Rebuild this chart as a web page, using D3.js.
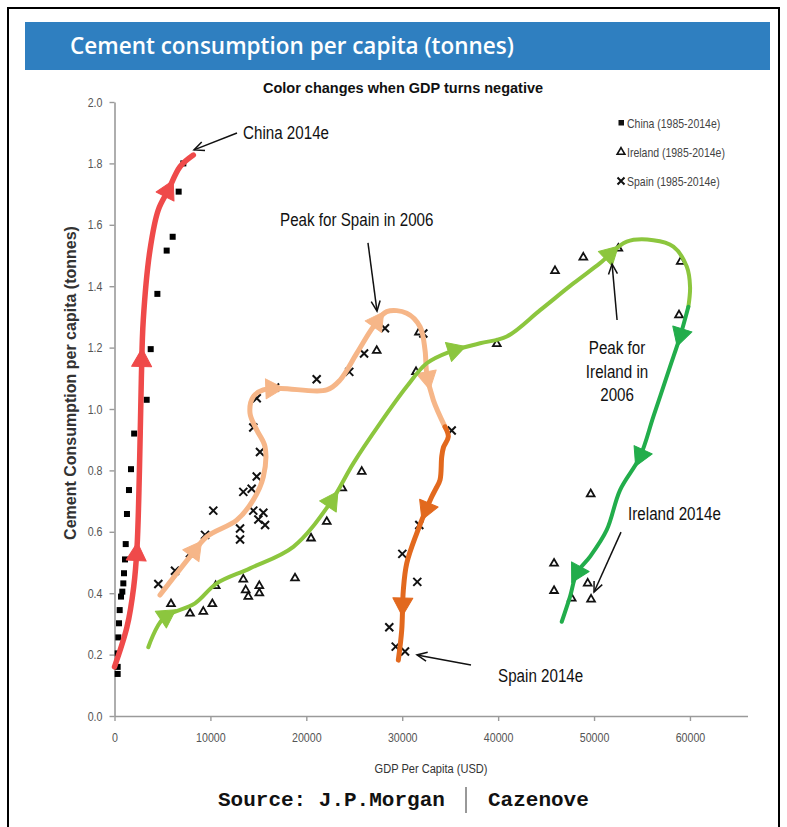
<!DOCTYPE html>
<html>
<head>
<meta charset="utf-8">
<script src="https://cdn.jsdelivr.net/npm/d3@7"></script>
<style>
  html, body { margin: 0; padding: 0; background: #fff; }
  svg { display: block; }
</style>
</head>
<body>
<svg id="chart" width="787" height="827"></svg>
<script>
// ---- Observations: GDP per capita (USD) and cement consumption per capita (tonnes)
const chinaGDP  = [330, 330, 330, 400, 470, 540, 680, 815, 920, 990, 1095, 1170, 1300, 1510, 1720, 2050, 3355, 3775, 4470, 5440, 6065, 6690, 7175];
const chinaCons = [0.137, 0.16, 0.204, 0.256, 0.302, 0.345, 0.389, 0.405, 0.432, 0.465, 0.51, 0.56, 0.658, 0.736, 0.804, 0.92, 1.03, 1.195, 1.375, 1.516, 1.561, 1.708, 1.80];

const irelandGDP  = [5890, 7873, 9260, 10200, 10550, 13430, 13680, 13950, 15100, 15100, 18820, 20490, 22130, 23750, 25780, 27340, 31440, 31750, 39860, 45930, 48880, 52530, 59040, 58860, 49650, 45830, 45830, 47670, 49340, 49690];
const irelandCons = [0.365, 0.334, 0.34, 0.365, 0.424, 0.445, 0.41, 0.389, 0.424, 0.40, 0.449, 0.579, 0.633, 0.742, 0.796, 1.19, 1.121, 1.25, 1.212, 1.45, 1.494, 1.523, 1.48, 1.306, 0.723, 0.497, 0.408, 0.383, 0.432, 0.38];

const spainGDP  = [4570, 6310, 7870, 9440, 10300, 13090, 13090, 13430, 14300, 14470, 15000, 15520, 15700, 14830, 15170, 14470, 14830, 16740, 21080, 24480, 26020, 28200, 32200, 35160, 31780, 30010, 31570, 28650, 29320, 30290];
const spainCons = [0.43, 0.473, 0.53, 0.59, 0.669, 0.611, 0.575, 0.73, 0.74, 0.669, 0.64, 0.662, 0.622, 0.78, 0.86, 0.94, 1.035, 1.07, 1.097, 1.121, 1.181, 1.263, 1.246, 0.93, 0.622, 0.528, 0.437, 0.289, 0.226, 0.21];

// ---- Hand-drawn trend paths (GDP, tonnes); the colour switches where GDP turns negative
const chinaTrendGDP = [0, 1300, 2000, 2350, 2600, 2800, 3000, 3700, 4560, 5610, 6830, 8220];
const chinaTrendVal = [0.16, 0.29, 0.42, 0.55, 0.80, 1.10, 1.29, 1.518, 1.648, 1.713, 1.789, 1.827];

const spainUpGDP = [4745, 7873, 9614, 12742, 14473, 15516, 15693, 14828, 14129, 14473, 15516, 17257, 22127, 23514, 25255, 26986, 28384, 30469, 31856, 32377, 32555, 33243, 34463];
const spainUpVal = [0.394, 0.519, 0.584, 0.638, 0.704, 0.779, 0.877, 0.932, 0.986, 1.040, 1.062, 1.067, 1.062, 1.094, 1.181, 1.268, 1.317, 1.312, 1.268, 1.192, 1.116, 1.029, 0.942];
const spainDownGDP = [34463, 34807, 34300, 34119, 33942, 33500, 33076, 31512, 30469, 30115, 29948, 29593];
const spainDownVal = [0.942, 0.910, 0.875, 0.845, 0.769, 0.74, 0.714, 0.595, 0.497, 0.410, 0.280, 0.182];

const irelandUpGDP = [3525, 5089, 8394, 10657, 14129, 18644, 22471, 24900, 27685, 30469, 32555, 34984, 38113, 40897, 44380, 47841, 50625, 53410, 56184, 58269, 59666, 60010, 59833];
const irelandUpVal = [0.224, 0.318, 0.367, 0.432, 0.481, 0.551, 0.693, 0.823, 0.953, 1.073, 1.149, 1.187, 1.214, 1.236, 1.322, 1.409, 1.475, 1.545, 1.550, 1.529, 1.464, 1.398, 1.333];
const irelandDownGDP = [59833, 58968, 57925, 56184, 54797, 52711, 51324, 49583, 48196, 47497, 46632];
const irelandDownVal = [1.333, 1.236, 1.138, 0.975, 0.845, 0.736, 0.606, 0.519, 0.465, 0.389, 0.307];

// Direction arrows sitting on each trend (GDP, tonnes)
const chinaArrowGDP = [2350, 2800, 5610];
const chinaArrowVal = [0.53, 1.16, 1.713];
const spainUpArrowGDP = [8500, 16500, 27250, 32900];
const spainUpArrowVal = [0.54, 1.065, 1.29, 1.10];
const spainDownArrowGDP = [32700, 30400];
const spainDownArrowVal = [0.67, 0.36];
const irelandUpArrowGDP = [5800, 22800, 35500, 51500];
const irelandUpArrowVal = [0.31, 0.70, 1.19, 1.51];
const irelandDownArrowGDP = [58900, 54800, 48200];
const irelandDownArrowVal = [1.24, 0.845, 0.465];

// Axis ticks
const yTicks = [0, 0.2, 0.4, 0.6, 0.8, 1.0, 1.2, 1.4, 1.6, 1.8, 2.0];
const xTicks = [0, 10000, 20000, 30000, 40000, 50000, 60000];

const legendLabels = ["China (1985-2014e)", "Ireland (1985-2014e)", "Spain (1985-2014e)"];

// Callouts: label lines, text anchor (GDP, tonnes), arrow from -> to (GDP, tonnes)
const calloutText = [["China 2014e"], ["Peak for Spain in 2006"], ["Peak for", "Ireland in", "2006"], ["Ireland 2014e"], ["Spain 2014e"]];
const calloutGDP  = [13400, 17260, 52400, 53550, 39990];
const calloutVal  = [1.879, 1.596, 1.179, 0.638, 0.111];
const calloutFromGDP = [12770, 26430, 52400, 52810, 37170];
const calloutFromVal = [1.899, 1.541, 1.290, 0.599, 0.166];
const calloutToGDP   = [8290, 27370, 51880, 50000, 31540];
const calloutToVal   = [1.844, 1.319, 1.472, 0.404, 0.199];

// ---- Drawing
const svg = d3.select("#chart");
const sans = "'Liberation Sans', Arial, sans-serif";
const NARROW = 0.82;   // horizontal squeeze giving an Arial Narrow look

// text helper: narrow-set text anchored at (px, py)
function narrowText(parent, px, py, str, size, opts = {}) {
  return parent.append("text")
    .attr("transform", `translate(${px},${py}) scale(${NARROW},1)`)
    .attr("font-family", sans).attr("font-size", size)
    .attr("text-anchor", opts.anchor || "start")
    .attr("fill", opts.fill || "#111").text(str);
}

// outer frame
svg.append("rect").attr("x", 8).attr("y", 8).attr("width", 771).attr("height", 840)
  .attr("fill", "#fff").attr("stroke", "#000").attr("stroke-width", 2);

// title banner
svg.append("rect").attr("x", 25).attr("y", 22).attr("width", 745).attr("height", 48)
  .attr("fill", "#2f7fc0");
svg.append("text").attr("x", 70).attr("y", 54)
  .attr("font-family", "'Open Sans', sans-serif").attr("font-weight", 600).attr("font-size", 22.5)
  .attr("fill", "#fff").text("Cement consumption per capita (tonnes)");

svg.append("text").attr("x", 403).attr("y", 93).attr("text-anchor", "middle")
  .attr("font-family", sans).attr("font-weight", "bold").attr("font-size", 14.5)
  .attr("fill", "#111").text("Color changes when GDP turns negative");

const x = d3.scaleLinear().domain([0, 66000]).range([114.5, 747.5]);
const y = d3.scaleLinear().domain([0, 2]).range([716, 102]);

// axes
const yAxis = svg.append("g").attr("transform", `translate(${x(0)},0)`)
  .call(d3.axisLeft(y).tickValues(yTicks).tickFormat(d3.format(".1f")).tickSize(5).tickSizeOuter(0).tickPadding(7));
const xAxis = svg.append("g").attr("transform", `translate(0,${y(0)})`)
  .call(d3.axisBottom(x).tickValues(xTicks).tickFormat(d3.format("d")).tickSize(5).tickSizeOuter(0).tickPadding(12));
[yAxis, xAxis].forEach(g => {
  g.select(".domain").attr("stroke", "#9a9a9a").attr("stroke-width", 1.6);
  g.selectAll(".tick line").attr("stroke", "#9a9a9a").attr("stroke-width", 1.4);
  g.selectAll(".tick text").attr("fill", "#555").attr("font-family", sans).attr("font-size", 13);
});
// squeeze tick labels about their own anchor
yAxis.selectAll(".tick text").each(function () {
  const t = d3.select(this), tx = +t.attr("x");
  t.attr("x", null).attr("transform", `translate(${tx},0) scale(${NARROW},1)`);
});
xAxis.selectAll(".tick text").attr("transform", `scale(${NARROW},1)`);

// axis titles
svg.append("text").attr("transform", `translate(76,383) rotate(-90)`).attr("text-anchor", "middle")
  .attr("font-family", sans).attr("font-weight", "bold").attr("font-size", 16)
  .attr("fill", "#333").text("Cement Consumption per capita (tonnes)");
narrowText(svg, 431, 773, "GDP Per Capita (USD)", 13.5, { anchor: "middle", fill: "#333" });

// source line
const mono = "'Liberation Mono', 'Courier New', monospace";
svg.append("text").attr("x", 218).attr("y", 806).attr("font-family", mono).attr("font-weight", "bold")
  .attr("font-size", 21).attr("fill", "#111").text("Source: J.P.Morgan");
svg.append("line").attr("x1", 466).attr("x2", 466).attr("y1", 787).attr("y2", 813)
  .attr("stroke", "#333").attr("stroke-width", 1);
svg.append("text").attr("x", 488).attr("y", 806).attr("font-family", mono).attr("font-weight", "bold")
  .attr("font-size", 21).attr("fill", "#111").text("Cazenove");

// markers
const gMarks = svg.append("g");
gMarks.selectAll("rect.china").data(d3.zip(chinaGDP, chinaCons)).join("rect")
  .attr("x", d => x(d[0]) - 3).attr("y", d => y(d[1]) - 3).attr("width", 6).attr("height", 6).attr("fill", "#000");

const tri = d3.symbol().type(d3.symbolTriangle).size(26);
gMarks.selectAll("path.ire").data(d3.zip(irelandGDP, irelandCons)).join("path")
  .attr("d", tri).attr("transform", d => `translate(${x(d[0])},${y(d[1])})`)
  .attr("fill", "#fff").attr("stroke", "#111").attr("stroke-width", 1.8);

const crossPath = "M-4,-4L4,4M-4,4L4,-4";
gMarks.selectAll("path.spa").data(d3.zip(spainGDP, spainCons)).join("path")
  .attr("d", crossPath).attr("transform", d => `translate(${x(d[0])},${y(d[1])})`)
  .attr("fill", "none").attr("stroke", "#111").attr("stroke-width", 2);

// trends with direction arrows
const line = d3.line().x(d => x(d[0])).y(d => y(d[1])).curve(d3.curveCatmullRom.alpha(0.5));
function trend(gdp, val, aG, aV, color, width) {
  const path = svg.append("path").datum(d3.zip(gdp, val)).attr("d", line)
    .attr("fill", "none").attr("stroke", color).attr("stroke-width", width)
    .attr("stroke-linecap", "round").attr("stroke-linejoin", "round");
  const node = path.node();
  const total = node.getTotalLength();
  d3.zip(aG, aV).forEach(([g, v]) => {
    const tx = x(g), ty = y(v);
    let best = 0, bestD = Infinity;
    for (let l = 0; l <= total; l += 1) {
      const p = node.getPointAtLength(l);
      const dd = (p.x - tx) ** 2 + (p.y - ty) ** 2;
      if (dd < bestD) { bestD = dd; best = l; }
    }
    const p0 = node.getPointAtLength(Math.max(0, best - 4));
    const p1 = node.getPointAtLength(Math.min(total, best + 4));
    const pc = node.getPointAtLength(best);
    const ang = Math.atan2(p1.y - p0.y, p1.x - p0.x) * 180 / Math.PI;
    svg.append("path").attr("d", "M11,0L-7,-10L-7,10Z")
      .attr("transform", `translate(${pc.x},${pc.y}) rotate(${ang})`)
      .attr("fill", color).attr("stroke", color).attr("stroke-width", 1).attr("stroke-linejoin", "round");
  });
}
trend(chinaTrendGDP, chinaTrendVal, chinaArrowGDP, chinaArrowVal, "#ef4a4a", 5.5);
trend(spainUpGDP, spainUpVal, spainUpArrowGDP, spainUpArrowVal, "#f6b688", 5);
trend(spainDownGDP, spainDownVal, spainDownArrowGDP, spainDownArrowVal, "#e2691e", 5);
trend(irelandUpGDP, irelandUpVal, irelandUpArrowGDP, irelandUpArrowVal, "#8cc63e", 4);
trend(irelandDownGDP, irelandDownVal, irelandDownArrowGDP, irelandDownArrowVal, "#22ad4b", 4);

// legend
const lg = svg.append("g");
legendLabels.forEach((t, i) => {
  const ly = 123 + i * 29;
  if (i === 0) lg.append("rect").attr("x", 618.5).attr("y", ly - 3).attr("width", 5.5).attr("height", 5.5).attr("fill", "#111");
  if (i === 1) lg.append("path").attr("d", tri).attr("transform", `translate(621,${ly})`)
    .attr("fill", "#fff").attr("stroke", "#111").attr("stroke-width", 1.6);
  if (i === 2) lg.append("path").attr("d", "M-3.5,-3.5L3.5,3.5M-3.5,3.5L3.5,-3.5").attr("transform", `translate(621,${ly})`)
    .attr("stroke", "#111").attr("stroke-width", 2);
  narrowText(lg, 627, ly + 4.5, t, 12.8, { fill: "#444" });
});

// callouts
calloutText.forEach((lines, i) => {
  const multi = lines.length > 1;
  lines.forEach((s, j) => {
    narrowText(svg, x(calloutGDP[i]), y(calloutVal[i]) + j * 23.5, s, 18.5, { anchor: multi ? "middle" : "start" });
  });
  const x1 = x(calloutFromGDP[i]), y1 = y(calloutFromVal[i]);
  const x2 = x(calloutToGDP[i]), y2 = y(calloutToVal[i]);
  svg.append("line").attr("x1", x1).attr("y1", y1).attr("x2", x2).attr("y2", y2)
    .attr("stroke", "#111").attr("stroke-width", 1.5);
  const a = Math.atan2(y2 - y1, x2 - x1);
  const head = [a + Math.PI - 0.42, a + Math.PI + 0.42].map(b => [x2 + 11 * Math.cos(b), y2 + 11 * Math.sin(b)]);
  svg.append("path").attr("d", `M${head[0][0]},${head[0][1]}L${x2},${y2}L${head[1][0]},${head[1][1]}`)
    .attr("fill", "none").attr("stroke", "#111").attr("stroke-width", 1.5);
});
</script>
</body>
</html>
